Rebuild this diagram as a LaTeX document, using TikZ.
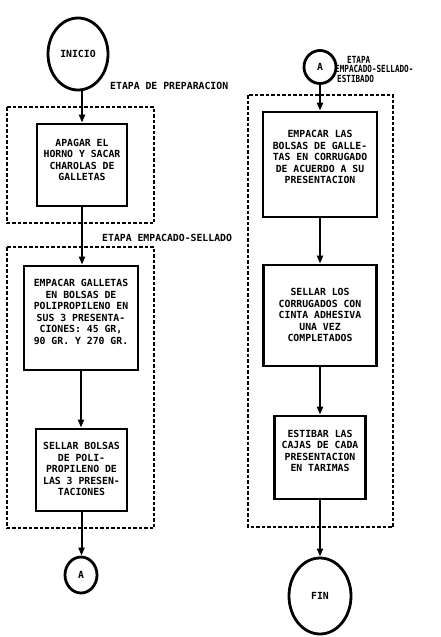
\documentclass[tikz,border=0pt]{standalone}
\usepackage{fontspec}
\usetikzlibrary{arrows.meta,shapes.geometric}
\newfontfamily\dmono{DejaVu Sans Mono Bold}
\newfontfamily\dmonoc[FakeStretch=0.78]{DejaVu Sans Mono Bold}
\begin{document}
\begin{tikzpicture}[x=1pt,y=-1pt,
  pbox/.style={draw,line width=2.8pt,inner sep=0pt},
  ptext/.style={font=\dmono\fontsize{9.8}{11.5}\selectfont,align=center,inner sep=0pt},
  term/.style={draw,ellipse,line width=2.8pt,inner sep=0pt,font=\dmono\fontsize{9.8}{11.5}\selectfont},
  stage/.style={draw,line width=1.6pt,dash pattern=on 3.5pt off 2pt},
  lab/.style={font=\dmono\fontsize{9.8}{11.5}\selectfont,inner sep=0pt,anchor=base west},
  flow/.style={line width=2pt,-{Triangle[width=6pt,length=8pt]}}]
\useasboundingbox (0,0) rectangle (440,637);
% stage frames
\draw[stage] (7,107) rectangle (154,223);
\draw[stage] (7,247) rectangle (154,528);
\draw[stage] (248,95) rectangle (393,527);
% labels
\node[lab] (l1) at (110,89) {ETAPA DE PREPARACION};
\node[lab] (l2) at (102,241) {ETAPA EMPACADO-SELLADO};
\node[font=\dmonoc\fontsize{9.8}{9.5}\selectfont,align=left,inner sep=0pt,anchor=north west] (l3) at (335,56) {\hspace*{12pt}ETAPA\\EMPACADO-SELLADO-\\\hspace*{2pt}ESTIBADO};
% left column
\node[term,minimum width=60pt,minimum height=72pt] (ini) at (78,54) {INICIO};
\node[pbox,minimum width=90pt,minimum height=82pt] (b1) at (82,165) {};
\node[ptext] (t1) at (82,160) {APAGAR EL\\HORNO Y SACAR\\CHAROLAS DE\\GALLETAS};
\node[pbox,minimum width=114pt,minimum height=104pt] (b2) at (81,318) {};
\node[ptext] (t2) at (81,312) {EMPACAR GALLETAS\\EN BOLSAS DE\\POLIPROPILENO EN\\SUS 3 PRESENTA-\\CIONES: 45 GR,\\90 GR. Y 270 GR.};
\node[pbox,minimum width=91pt,minimum height=82pt] (b3) at (81.5,470) {};
\node[ptext] (t3) at (81.5,469) {SELLAR BOLSAS\\DE POLI-\\PROPILENO DE\\LAS 3 PRESEN-\\TACIONES};
\node[term,minimum width=32pt,minimum height=36pt] (a1) at (81,575) {A};
% right column
\node[term,minimum width=32pt,minimum height=33pt] (a2) at (320,67) {A};
\node[pbox,minimum width=114pt,minimum height=105pt] (b4) at (320,164.5) {};
\node[ptext] (t4) at (320,157) {EMPACAR LAS\\BOLSAS DE GALLE-\\TAS EN CORRUGADO\\DE ACUERDO A SU\\PRESENTACION};
\node[pbox,minimum width=113pt,minimum height=101pt] (b5) at (320,315.5) {};
\node[ptext] (t5) at (320,315) {SELLAR LOS\\CORRUGADOS CON\\CINTA ADHESIVA\\UNA VEZ\\COMPLETADOS};
\node[pbox,minimum width=91pt,minimum height=83pt] (b6) at (320,457.5) {};
\node[ptext] (t6) at (320,451) {ESTIBAR LAS\\CAJAS DE CADA\\PRESENTACION\\EN TARIMAS};
\node[term,minimum width=62pt,minimum height=76pt] (fin) at (320,596) {FIN};
% connectors
\draw[flow] (ini.south -| b1.north) -- (b1.north);
\draw[flow] (b1.south) -- (b1.south |- b2.north);
\draw[flow] (b2.south) -- (b2.south |- b3.north);
\draw[flow] (b3.south) -- (b3.south |- a1.north);
\draw[flow] (a2.south) -- (a2.south |- b4.north);
\draw[flow] (b4.south) -- (b4.south |- b5.north);
\draw[flow] (b5.south) -- (b5.south |- b6.north);
\draw[flow] (b6.south) -- (b6.south |- fin.north);
\end{tikzpicture}
\end{document}
